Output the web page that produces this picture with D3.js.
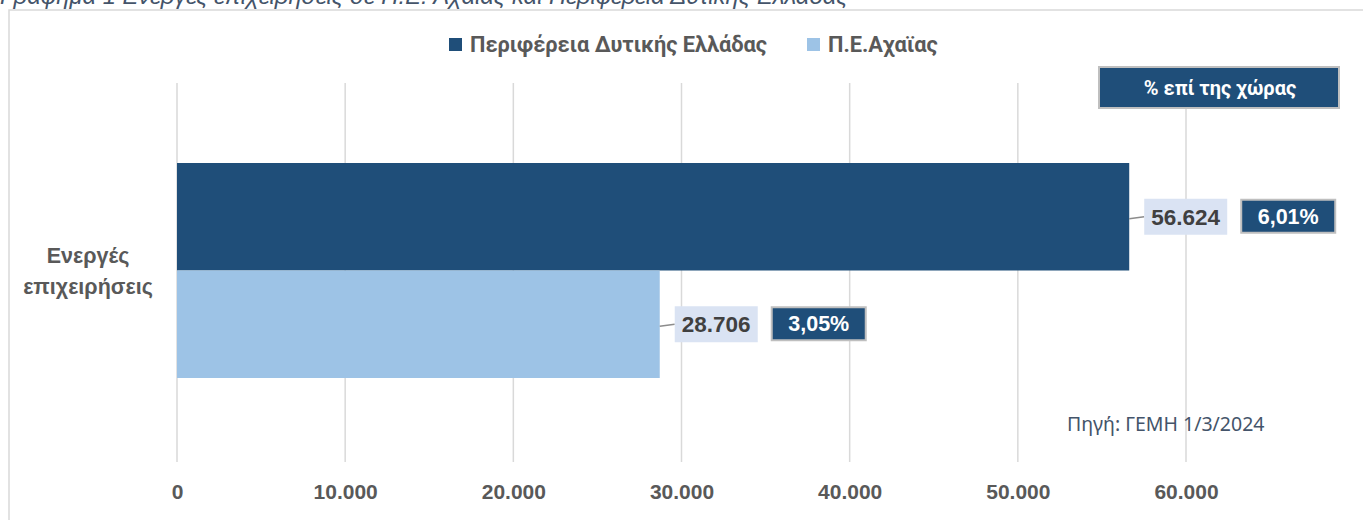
<!DOCTYPE html>
<html>
<head>
<meta charset="utf-8">
<script src="https://cdn.jsdelivr.net/npm/d3@7"></script>
<style>
  body { margin: 0; background: #fff; }
  svg { display: block; }
</style>
</head>
<body>
<div id="chart"></div>
<script>
// data
const categories = ["Ενεργές επιχειρήσεις"];
const seriesNames = ["Περιφέρεια Δυτικής Ελλάδας", "Π.Ε.Αχαϊας"];
const seriesValues = [56624, 28706];
const countryShare = ["6,01%", "3,05%"];
const xTicks = [0, 10000, 20000, 30000, 40000, 50000, 60000];
const titleText = "Γράφημα 1 Ενεργές επιχειρήσεις σε Π.Ε. Αχαΐας και Περιφέρεια Δυτικής Ελλάδας";
const sourceText = "Πηγή: ΓΕΜΗ 1/3/2024";
const shareHeader = "% επί της χώρας";

const W = 1363, H = 520;
const colors = ["#1f4e79", "#9dc3e6"];
const fmt = d => d3.format(",")(d).replace(/,/g, ".");

const svg = d3.select("#chart").append("svg")
  .attr("width", W).attr("height", H);

// cut-off caption above the frame
svg.append("text")
  .attr("x", 0).attr("y", 4)
  .attr("font-family", "Liberation Sans, Arial, sans-serif")
  .attr("font-style", "italic")
  .attr("font-size", 23.8)
  .attr("fill", "#44546a")
  .text(titleText);

// chart frame
svg.append("rect")
  .attr("x", 9).attr("y", 10)
  .attr("width", W + 10).attr("height", H + 10)
  .attr("fill", "none").attr("stroke", "#d9d9d9").attr("stroke-width", 1.5);

const x = d3.scaleLinear().domain([0, 60000]).range([177, 1186]);
const y = d3.scaleBand().domain(categories).range([163, 378]).padding(0);
const ySub = d3.scaleBand().domain(seriesNames).range([0, y.bandwidth()]);

// gridlines
svg.append("g").selectAll("line").data(xTicks).join("line")
  .attr("x1", d => x(d)).attr("x2", d => x(d))
  .attr("y1", 83).attr("y2", 462)
  .attr("stroke", "#d9d9d9").attr("stroke-width", 1.5);

// x axis
const xAxis = d3.axisBottom(x).tickValues(xTicks).tickFormat(fmt).tickSize(0).tickPadding(0);
const gx = svg.append("g").attr("transform", "translate(0,484)").call(xAxis);
gx.select(".domain").remove();
gx.selectAll("text")
  .attr("font-family", "Liberation Sans, Arial, sans-serif")
  .attr("font-weight", "bold")
  .attr("font-size", 21)
  .attr("fill", "#595959");

// category label
const catLabel = svg.append("text")
  .attr("text-anchor", "middle")
  .attr("font-family", "Liberation Sans, Arial, sans-serif")
  .attr("font-weight", "bold")
  .attr("font-size", 21.5)
  .attr("fill", "#595959");
const cMid = y(categories[0]) + y.bandwidth() / 2;
catLabel.append("tspan").attr("x", 88).attr("y", cMid - 8).text("Ενεργές");
catLabel.append("tspan").attr("x", 88).attr("y", cMid + 23).text("επιχειρήσεις");

// bars
const rows = seriesNames.map((s, i) => ({ name: s, value: seriesValues[i], share: countryShare[i], color: colors[i] }));
const bars = svg.append("g").attr("transform", `translate(0,${y(categories[0])})`);
bars.selectAll("rect").data(rows).join("rect")
  .attr("x", x(0))
  .attr("y", d => ySub(d.name))
  .attr("width", d => x(d.value) - x(0))
  .attr("height", ySub.bandwidth())
  .attr("fill", d => d.color);

// value labels with leader lines and share boxes
rows.forEach(d => {
  const cy = y(categories[0]) + ySub(d.name) + ySub.bandwidth() / 2;
  const bx = x(d.value) + 15;
  svg.append("line")
    .attr("x1", x(d.value)).attr("x2", bx)
    .attr("y1", cy + 2).attr("y2", cy)
    .attr("stroke", "#8c8c8c").attr("stroke-width", 1.5);
  svg.append("rect")
    .attr("x", bx).attr("y", cy - 18)
    .attr("width", 83).attr("height", 36)
    .attr("fill", "#dae3f3");
  svg.append("text")
    .attr("x", bx + 41.5).attr("y", cy + 8)
    .attr("text-anchor", "middle")
    .attr("font-family", "Liberation Sans, Arial, sans-serif")
    .attr("font-weight", "bold")
    .attr("font-size", 22.5)
    .attr("fill", "#404040")
    .text(fmt(d.value));
  const px = bx + 97;
  svg.append("rect")
    .attr("x", px).attr("y", cy - 17)
    .attr("width", 94).attr("height", 33)
    .attr("fill", "#1f4e79").attr("stroke", "#bfbfbf").attr("stroke-width", 2);
  svg.append("text")
    .attr("x", px + 47).attr("y", cy + 7)
    .attr("text-anchor", "middle")
    .attr("font-family", "Liberation Sans, Arial, sans-serif")
    .attr("font-weight", "bold")
    .attr("font-size", 21.5)
    .attr("fill", "#fff")
    .text(d.share);
});

// share header box
svg.append("rect")
  .attr("x", 1099).attr("y", 67)
  .attr("width", 240).attr("height", 41)
  .attr("fill", "#1f4e79").attr("stroke", "#bfbfbf").attr("stroke-width", 2);
svg.append("text")
  .attr("x", 1220).attr("y", 95)
  .attr("text-anchor", "middle")
  .attr("font-family", "Roboto, sans-serif")
  .attr("font-weight", "bold")
  .attr("font-size", 20)
  .attr("fill", "#fff")
  .text(shareHeader);

// legend
const legendX = [449, 807];
const legend = svg.append("g");
rows.forEach((d, i) => {
  legend.append("rect")
    .attr("x", legendX[i]).attr("y", 38)
    .attr("width", 13).attr("height", 13)
    .attr("fill", d.color);
  legend.append("text")
    .attr("x", legendX[i] + 21).attr("y", 52)
    .attr("font-family", "Roboto, sans-serif")
    .attr("font-weight", "bold")
    .attr("font-size", 21.8)
    .attr("fill", "#595959")
    .text(d.name);
});

// source note
svg.append("text")
  .attr("x", 1067).attr("y", 431)
  .attr("font-family", "Noto Sans, sans-serif")
  .attr("font-size", 19.5)
  .attr("fill", "#44546a")
  .text(sourceText);
</script>
</body>
</html>
